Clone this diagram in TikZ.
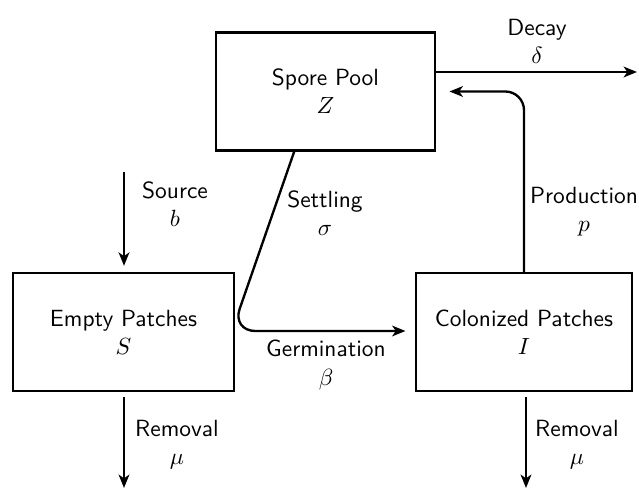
\documentclass[tikz,border=0pt]{standalone}
\usetikzlibrary{arrows.meta}

\tikzset{
  box/.style={draw, line width=1pt, align=center, font=\sffamily, minimum height=17.7mm},
  lbl/.style={align=center, font=\sffamily},
  flow/.style={line width=1pt, -{Stealth[length=2mm, width=1.6mm, inset=0.55mm]}}
}

\begin{document}
\begin{tikzpicture}[x=0.15mm, y=-0.15mm]
        \useasboundingbox (0,0) rectangle (639,489);
        % compartments
        \node[box, minimum width=32.85mm] (Z) at (325.5,91.5) {Spore Pool\\$Z$};
        \node[box, minimum width=33.15mm] (S) at (123.5,332) {Empty Patches\\$S$};
        \node[box, minimum width=32.4mm] (I) at (524,332) {Colonized Patches\\$I$};
        % free ends
        \coordinate (decay) at (637,72);
        \coordinate (source) at (124,172);
        \coordinate (bend) at (232,331);
        \coordinate (outS) at (124,488);
        \coordinate (outI) at (526,488);
        % flows
        \draw[flow] (Z.east |- decay) -- (decay);
        \draw[flow, rounded corners=2.8mm] (I.north) |- ([xshift=2mm]Z.east);
        \draw[flow, rounded corners=3.5mm, shorten >=1.4mm] ([xshift=-4.7mm]Z.south) -- (bend) -- (bend -| I.west);
        \draw[flow, shorten >=0.9mm] (source) -- (source |- S.north);
        \draw[flow, shorten <=0.7mm] (S.south -| outS) -- (outS);
        \draw[flow, shorten <=0.7mm] (I.south -| outI) -- (outI);
        % rates
        \node[lbl] (decaylbl) at (537,41) {Decay\\$\delta$};
        \node[lbl] (prodlbl) at (584,212) {Production\\$p$};
        \node[lbl] (settlbl) at (325,213) {Settling\\$\sigma$};
        \node[lbl] (germlbl) at (326,365) {Germination\\$\beta$};
        \node[lbl] (srclbl) at (175,204) {Source\\$b$};
        \node[lbl] (remSlbl) at (177,445) {Removal\\$\mu$};
        \node[lbl] (remIlbl) at (577,445) {Removal\\$\mu$};
\end{tikzpicture}
\end{document}
